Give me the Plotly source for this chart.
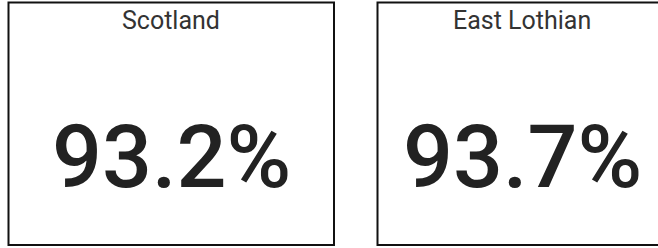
import plotly.graph_objects as go

W, H = 658, 248

areas = ["Scotland", "East Lothian"]
values = [93.2, 93.7]
value_labels = [f"{v:.1f}%" for v in values]

# panel boxes in pixels (left, right, top, bottom)
boxes = [(8.5, 334, 2.5, 245), (377.5, 667, 2.5, 245)]

fig = go.Figure()

def px(x):
    return x / W

def py(y):
    return 1 - y / H

for (x0, x1, y0, y1), name, lab in zip(boxes, areas, value_labels):
    fig.add_shape(type="rect", xref="paper", yref="paper",
                  x0=px(x0), x1=px(x1), y0=py(y1), y1=py(y0),
                  line=dict(color="#111111", width=2), fillcolor="white", layer="below")
    cx = px((x0 + x1) / 2)
    fig.add_annotation(x=cx, y=py(20), xref="paper", yref="paper", text=name,
                       showarrow=False, xanchor="center", yanchor="middle",
                       font=dict(family="Roboto", size=25, color="#333333"))
    fig.add_annotation(x=cx, y=py(156), xref="paper", yref="paper", text=lab,
                       showarrow=False, xanchor="center", yanchor="middle",
                       font=dict(family="Roboto", size=88, color="#222222", weight=500))

fig.update_layout(width=W, height=H, margin=dict(l=0, r=0, t=0, b=0),
                  paper_bgcolor="white", plot_bgcolor="white",
                  xaxis=dict(visible=False), yaxis=dict(visible=False),
                  showlegend=False)

fig.write_html("out.html", config={"displayModeBar": False},
               post_script="document.body.style.margin='0px';document.body.style.overflow='hidden';")
